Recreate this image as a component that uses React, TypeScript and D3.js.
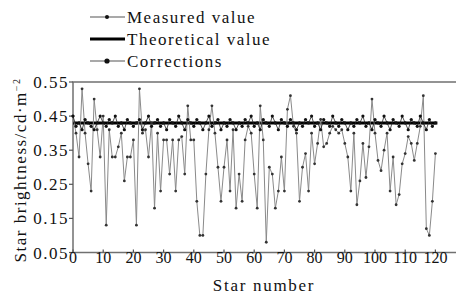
import React from "react";
import * as d3 from "d3";

const measured: number[] = [
  0.45, 0.40, 0.33, 0.53, 0.40, 0.31, 0.23, 0.50, 0.41, 0.33,
  0.45, 0.13, 0.41, 0.33, 0.33, 0.36, 0.40, 0.26, 0.33, 0.33,
  0.38, 0.13, 0.53, 0.40, 0.41, 0.33, 0.43, 0.18, 0.40, 0.23,
  0.38, 0.38, 0.28, 0.38, 0.23, 0.38, 0.39, 0.28, 0.48, 0.38,
  0.38, 0.20, 0.10, 0.10, 0.28, 0.41, 0.48, 0.40, 0.30, 0.20,
  0.30, 0.38, 0.23, 0.41, 0.18, 0.28, 0.20, 0.38, 0.42, 0.40,
  0.28, 0.18, 0.48, 0.38, 0.08, 0.30, 0.28, 0.18, 0.23, 0.33,
  0.23, 0.47, 0.51, 0.42, 0.40, 0.20, 0.30, 0.34, 0.23, 0.40,
  0.31, 0.37, 0.44, 0.36, 0.37, 0.40, 0.42, 0.41, 0.40, 0.41,
  0.37, 0.33, 0.23, 0.40, 0.19, 0.26, 0.37, 0.27, 0.36, 0.50,
  0.40, 0.32, 0.29, 0.35, 0.40, 0.23, 0.33, 0.19, 0.22, 0.31,
  0.34, 0.39, 0.37, 0.32, 0.37, 0.42, 0.51, 0.12, 0.10, 0.20,
  0.34,
];

const corrections: number[] = [
  0.45, 0.42, 0.43, 0.41, 0.44, 0.43, 0.42, 0.41, 0.43, 0.45,
  0.43, 0.42, 0.44, 0.43, 0.45, 0.42, 0.43, 0.41, 0.44, 0.43,
  0.42, 0.43, 0.44, 0.41, 0.43, 0.45, 0.42, 0.43, 0.44, 0.42,
  0.43, 0.41, 0.44, 0.43, 0.42, 0.45, 0.43, 0.41, 0.44, 0.43,
  0.42, 0.44, 0.43, 0.41, 0.43, 0.45, 0.42, 0.43, 0.44, 0.41,
  0.43, 0.42, 0.44, 0.43, 0.41, 0.43, 0.42, 0.44, 0.43, 0.45,
  0.42, 0.43, 0.41, 0.44, 0.43, 0.42, 0.45, 0.43, 0.41, 0.44,
  0.43, 0.42, 0.44, 0.43, 0.41, 0.43, 0.42, 0.44, 0.43, 0.45,
  0.42, 0.43, 0.41, 0.44, 0.43, 0.42, 0.45, 0.43, 0.42, 0.44,
  0.43, 0.41, 0.43, 0.42, 0.44, 0.43, 0.45, 0.42, 0.43, 0.41,
  0.44, 0.43, 0.42, 0.45, 0.43, 0.41, 0.44, 0.43, 0.42, 0.45,
  0.43, 0.41, 0.44, 0.43, 0.42, 0.45, 0.43, 0.41, 0.44, 0.42,
  0.43,
];

const theoretical = 0.43;
const yTicks: number[] = [0.05, 0.15, 0.25, 0.35, 0.45, 0.55];
const xTicks: number[] = [0, 10, 20, 30, 40, 50, 60, 70, 80, 90, 100, 110, 120];
const legendLabels: string[] = ["Measured value", "Theoretical value", "Corrections"];

const W = 456;
const H = 296;
const left = 73;
const top = 82;
const bottom = 252.5;

const FONT = "'Liberation Serif', 'DejaVu Serif', serif";

export default function App() {
  const x = d3.scaleLinear().domain([0, 128]).range([left, left + 128 * 3.02]);
  const y = d3.scaleLinear().domain([0.05, 0.55]).range([bottom, top]);

  const line = d3
    .line<number>()
    .x((_, i) => x(i))
    .y((d) => y(d));

  const right = x(128);

  return (
    <svg
      width={W}
      height={H}
      style={{ position: "absolute", left: 0, top: 0, background: "#fff" }}
      fontFamily={FONT}
    >
      {/* frame */}
      <rect x={left} y={top} width={right - left} height={bottom - top} fill="none" stroke="#707070" strokeWidth={1.5} />

      {/* y ticks */}
      {yTicks.map((t) => (
        <g key={"y" + t}>
          <line x1={left - 4} x2={left} y1={y(t)} y2={y(t)} stroke="#555" strokeWidth={1.2} />
          <text x={left - 4} y={y(t) + 6} textAnchor="end" fontSize={17} letterSpacing={1.5} fill="#111">
            {t.toFixed(2)}
          </text>
        </g>
      ))}

      {/* x ticks */}
      {xTicks.map((t) => (
        <g key={"x" + t}>
          <line x1={x(t)} x2={x(t)} y1={bottom} y2={bottom - 3} stroke="#555" strokeWidth={1.2} />
          <text x={x(t)} y={bottom + 10} textAnchor="middle" fontSize={16} fill="#111">
            {t}
          </text>
        </g>
      ))}

      {/* theoretical */}
      <line x1={x(0)} x2={x(measured.length - 1) + 2} y1={y(theoretical)} y2={y(theoretical)} stroke="#000" strokeWidth={3} />

      {/* measured */}
      <path d={line(measured) ?? ""} fill="none" stroke="#8a8a8a" strokeWidth={1} />
      {measured.map((v, i) => (
        <circle key={"m" + i} cx={x(i)} cy={y(v)} r={1.4} fill="#333" />
      ))}

      {/* corrections */}
      <path d={line(corrections) ?? ""} fill="none" stroke="#222" strokeWidth={0.8} />
      {corrections.map((v, i) => (
        <circle key={"c" + i} cx={x(i)} cy={y(v)} r={1.6} fill="#111" />
      ))}

      {/* legend */}
      <g>
        <line x1={90} x2={125} y1={17} y2={17} stroke="#555" strokeWidth={1.2} />
        <circle cx={107} cy={17} r={2} fill="#111" />
        <text x={127} y={23} fontSize={17} letterSpacing={1.5} fill="#111">{legendLabels[0]}</text>

        <line x1={90} x2={125} y1={39} y2={39} stroke="#000" strokeWidth={3.2} />
        <text x={127} y={45} fontSize={17} letterSpacing={1.5} fill="#111">{legendLabels[1]}</text>

        <line x1={90} x2={125} y1={61} y2={61} stroke="#555" strokeWidth={1.2} />
        <circle cx={107} cy={61} r={2.6} fill="#111" />
        <text x={127} y={67} fontSize={17} letterSpacing={1.5} fill="#111">{legendLabels[2]}</text>
      </g>

      {/* axis titles */}
      <text x={264} y={291} textAnchor="middle" fontSize={17} letterSpacing={1.7} fill="#111">
        Star number
      </text>
      <text
        transform={`translate(26, ${170}) rotate(-90)`}
        textAnchor="middle"
        fontSize={17}
        letterSpacing={1.5}
        fill="#111"
      >
        Star brightness/cd·m
        <tspan dy={-6} fontSize={10}>−2</tspan>
      </text>
    </svg>
  );
}
